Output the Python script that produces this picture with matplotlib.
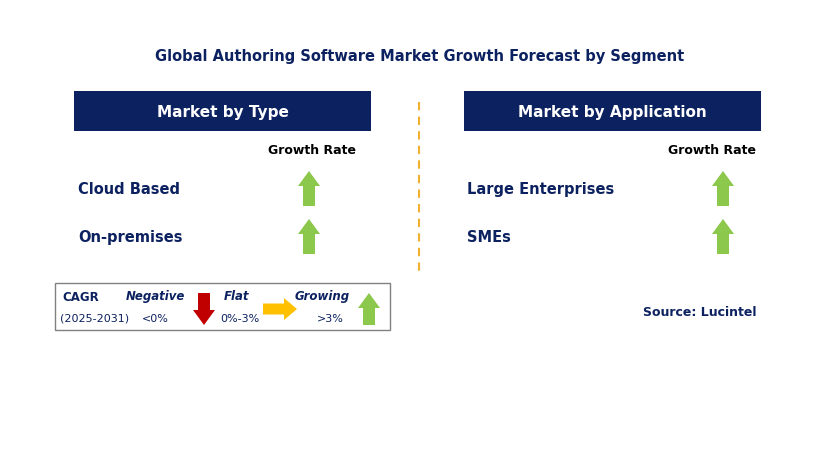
import matplotlib
matplotlib.use("Agg")
import matplotlib.pyplot as plt
from matplotlib.patches import Rectangle, Polygon

title = "Global Authoring Software Market Growth Forecast by Segment"
type_header = "Market by Type"
app_header = "Market by Application"
type_categories = ["Cloud Based", "On-premises"]
type_growth = ["up", "up"]
app_categories = ["Large Enterprises", "SMEs"]
app_growth = ["up", "up"]
legend_labels = ["Negative", "Flat", "Growing"]
legend_ranges = ["<0%", "0%-3%", ">3%"]
source = "Source: Lucintel"

NAVY = "#0C2160"
GREEN = "#8CC84B"
RED = "#C00000"
ORANGE = "#FFC000"

fig = plt.figure(figsize=(8.29, 4.6), dpi=100)
ax = fig.add_axes([0, 0, 1, 1])
ax.set_xlim(0, 829); ax.set_ylim(460, 0); ax.axis("off")

def up_arrow(cx, top, bot, w=22, bw=12, hh=15, color=GREEN):
    pts = [(cx, top), (cx + w/2, top + hh), (cx + bw/2, top + hh), (cx + bw/2, bot),
           (cx - bw/2, bot), (cx - bw/2, top + hh), (cx - w/2, top + hh)]
    ax.add_patch(Polygon(pts, closed=True, color=color, lw=0))

def down_arrow(cx, top, bot, w=22, bw=12, hh=15, color=RED):
    pts = [(cx, bot), (cx + w/2, bot - hh), (cx + bw/2, bot - hh), (cx + bw/2, top),
           (cx - bw/2, top), (cx - bw/2, bot - hh), (cx - w/2, bot - hh)]
    ax.add_patch(Polygon(pts, closed=True, color=color, lw=0))

def right_arrow(left, right, cy, h=22, bh=11, hl=13, color=ORANGE):
    pts = [(right, cy), (right - hl, cy - h/2), (right - hl, cy - bh/2), (left, cy - bh/2),
           (left, cy + bh/2), (right - hl, cy + bh/2), (right - hl, cy + h/2)]
    ax.add_patch(Polygon(pts, closed=True, color=color, lw=0))

ax.text(420, 57, title, ha="center", va="center", fontsize=10.5, fontweight="bold", color=NAVY)

for x0, hdr, cats, gr, gx, cx in [(74, type_header, type_categories, type_growth, 312, 78),
                                   (464, app_header, app_categories, app_growth, 712, 467)]:
    ax.add_patch(Rectangle((x0, 92), 297, 40, color=NAVY, lw=0))
    ax.text(x0 + 148.5, 112, hdr, ha="center", va="center", fontsize=11, fontweight="bold", color="white")
    ax.text(gx, 151, "Growth Rate", ha="center", va="center", fontsize=9, fontweight="bold", color="black")
    for i, (c, g) in enumerate(zip(cats, gr)):
        y = 190 + i * 48
        ax.text(cx, y, c, ha="left", va="center", fontsize=10.5, fontweight="bold", color=NAVY)
        if g == "up":
            up_arrow(gx - 3 + (0 if x0 == 74 else 14), y - 18, y + 17)
        else:
            down_arrow(gx - 3, y - 18, y + 17)

ax.plot([419, 419], [103, 275], ls=(0, (4, 3)), color="#F0B030", lw=1.5)

ax.add_patch(Rectangle((55, 284), 335, 47, fill=False, ec="#808080", lw=1))
ax.text(62, 298, "CAGR", ha="left", va="center", fontsize=8.5, fontweight="bold", color=NAVY)
ax.text(60, 319, "(2025-2031)", ha="left", va="center", fontsize=8, color=NAVY)
lx = [155, 237, 322]
rx = [155, 240, 330]
for l, r, x1, x2 in zip(legend_labels, legend_ranges, lx, rx):
    ax.text(x1, 297, l, ha="center", va="center", fontsize=8.5, fontweight="bold", style="italic", color=NAVY)
    ax.text(x2, 319, r, ha="center", va="center", fontsize=8, color=NAVY)
down_arrow(204, 294, 326)
right_arrow(263, 297, 310)
up_arrow(369, 294, 326)

ax.text(700, 313, source, ha="center", va="center", fontsize=9, fontweight="bold", color=NAVY)

fig.savefig("out.png", dpi=100)
